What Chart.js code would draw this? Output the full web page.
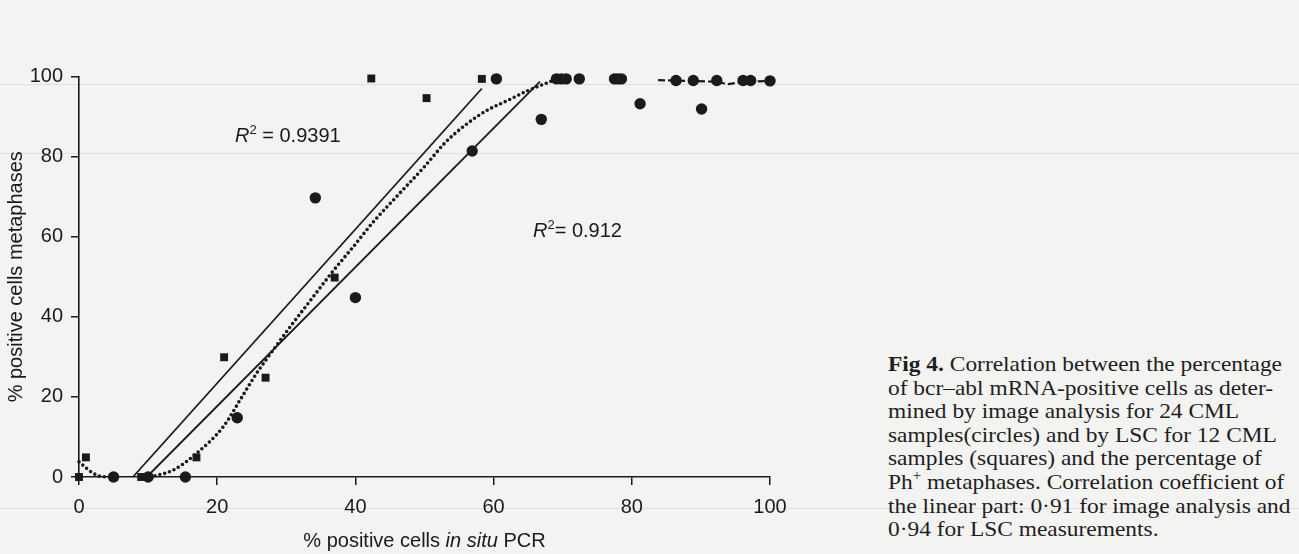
<!DOCTYPE html>
<html>
<head>
<meta charset="utf-8">
<title>Fig 4</title>
<script src="https://cdn.jsdelivr.net/npm/chart.js@4.4.1/dist/chart.umd.min.js"></script>
<style>
    body { margin: 0; width: 1299px; height: 554px; overflow: hidden; position: relative;
           background: #f3f3f1; color: #1a1a1a; font-family: "Liberation Sans", Arial, sans-serif; }
    #wrap { position: absolute; left: 0; top: 0; width: 800px; height: 554px; }
    .rule { position: absolute; left: 0; width: 1299px; height: 1px; background: #e0e0de; }
    .r2 { position: absolute; font-size: 20px; line-height: 20px; white-space: nowrap; }
    .r2 sup { font-size: 13px; line-height: 0; vertical-align: 8px; }
    #xtitle { position: absolute; left: 79px; width: 691px; top: 529px; text-align: center;
              font-size: 20px; line-height: 22px; white-space: nowrap; }
    #caption { position: absolute; left: 888px; top: 352px; font-family: "Liberation Serif", serif;
               font-size: 22px; line-height: 23.6px; white-space: nowrap; transform-origin: 0 0; color: #1e1e1e; }
    #caption sup { font-size: 14px; line-height: 0; vertical-align: 9px; }
</style>
</head>
<body>
<div class="rule" style="top:84px"></div>
<div class="rule" style="top:153px"></div>
<div class="rule" style="top:508px"></div>

<div id="wrap"><canvas id="chartFig4" width="800" height="554"></canvas></div>

<div class="r2" style="left:235px; top:125px"><i>R</i><sup>2</sup> = 0.9391</div>
<div class="r2" style="left:533px; top:220px"><i>R</i><sup>2</sup>= 0.912</div>
<div id="xtitle">% positive cells <i>in situ</i> PCR</div>

<div id="caption">
    <div id="capFirst"><b>Fig 4.</b> Correlation between the percentage</div>
    <div>of bcr–abl mRNA-positive cells as deter-</div>
    <div>mined by image analysis for 24 CML</div>
    <div>samples(circles) and by LSC for 12 CML</div>
    <div>samples (squares) and the percentage of</div>
    <div>Ph<sup>+</sup> metaphases. Correlation coefficient of</div>
    <div>the linear part: 0·91 for image analysis and</div>
    <div>0·94 for LSC measurements.</div>
</div>

<script>
// image analysis samples (circles)
const circleX = [5, 10, 15.4, 22.9, 34.2, 40, 56.9, 60.4, 66.9, 69.1, 69.8, 70.5, 72.4, 77.5, 78, 78.5, 81.2, 86.4, 88.9, 90.1, 92.3, 96.1, 97.2, 100];
const circleY = [0, 0, 0, 14.8, 69.7, 44.8, 81.4, 99.4, 89.3, 99.4, 99.4, 99.4, 99.4, 99.4, 99.4, 99.4, 93.2, 99, 99, 91.9, 99, 99, 99, 98.9];

// LSC samples (squares)
const squareX = [0, 1, 5, 9, 10, 17, 21, 27, 37, 42.3, 50.3, 58.3];
const squareY = [0, 4.9, 0, 0, 0, 4.9, 29.9, 24.8, 49.8, 99.5, 94.6, 99.4];

// linear fits
const fitLscX = [7.8, 58.3];
const fitLscY = [0, 97];
const fitImgX = [9.8, 66.7];
const fitImgY = [0, 98.7];

// dotted trend curve
const polyStartX = [0, 1, 2, 3, 4];
const polyStartY = [3.8, 2.3, 1.0, 0.2, 0];
const polyX = [10.3, 13.6, 17, 20.9, 23.3, 25.7, 28.1, 31, 33.9, 36.8, 39.7, 42.5, 46.5, 50, 53, 56, 59, 62, 65, 68.6];
const polyY = [0, 1.7, 5.9, 12.6, 19.2, 25.9, 31.7, 38.5, 45, 51.5, 57.5, 63.5, 71, 77.5, 83.5, 88, 91.5, 94, 96.5, 99];

// short dashed plateau segment at the top
const plateauX = [83.8, 88, 92, 94, 96, 100];
const plateauY = [99.1, 98.9, 98.7, 98.1, 98.6, 98.9];

const xTicks = [0, 20, 40, 60, 80, 100];
const yTicks = [0, 20, 40, 60, 80, 100];

const INK = '#1a1a1a';

function pts(xs, ys) {
    return xs.map((x, i) => ({ x: x, y: ys[i] }));
}

function lineSet(xs, ys, extra) {
    return Object.assign({
        data: pts(xs, ys),
        showLine: true,
        borderColor: INK,
        borderWidth: 1.8,
        pointRadius: 0,
        fill: false,
        clip: false
    }, extra);
}

const ctx = document.getElementById('chartFig4').getContext('2d');

new Chart(ctx, {
    type: 'scatter',
    data: {
        datasets: [
            {
                label: 'image analysis',
                data: pts(circleX, circleY),
                pointStyle: 'circle',
                pointRadius: 5.7,
                backgroundColor: INK,
                borderColor: INK,
                borderWidth: 0,
                clip: false
            },
            {
                label: 'LSC',
                data: pts(squareX, squareY),
                pointStyle: 'rect',
                pointRadius: 5.6,
                backgroundColor: INK,
                borderColor: INK,
                borderWidth: 0,
                clip: false
            },
            lineSet(fitLscX, fitLscY, { label: 'fit LSC' }),
            lineSet(fitImgX, fitImgY, { label: 'fit image' }),
            lineSet(polyX, polyY, {
                label: 'trend',
                borderWidth: 3.6,
                borderDash: [0, 5],
                borderCapStyle: 'round',
                cubicInterpolationMode: 'monotone'
            }),
            lineSet(polyStartX, polyStartY, {
                label: 'trend start',
                borderWidth: 3.6,
                borderDash: [0, 5],
                borderCapStyle: 'round',
                cubicInterpolationMode: 'monotone'
            }),
            lineSet(plateauX, plateauY, {
                label: 'plateau',
                borderWidth: 2.2,
                borderDash: [7, 3]
            })
        ]
    },
    options: {
        responsive: false,
        animation: false,
        devicePixelRatio: 1,
        layout: { padding: { top: 76.5, right: 30, left: 0, bottom: 0 } },
        plugins: { legend: { display: false }, tooltip: { enabled: false } },
        scales: {
            x: {
                type: 'linear',
                min: 0,
                max: 100,
                afterFit: s => { s.height = 77; },
                afterBuildTicks: s => { s.ticks = xTicks.map(v => ({ value: v })); },
                border: { display: true, color: INK, width: 1.6 },
                grid: { drawOnChartArea: false, drawTicks: true, tickLength: 8, color: INK, lineWidth: 1.5 },
                ticks: { color: INK, padding: 10, font: { family: 'Liberation Sans', size: 20 } }
            },
            y: {
                type: 'linear',
                min: 0,
                max: 100,
                afterFit: s => { s.width = 79; },
                afterBuildTicks: s => { s.ticks = yTicks.map(v => ({ value: v })); },
                border: { display: true, color: INK, width: 1.6 },
                grid: { drawOnChartArea: false, drawTicks: true, tickLength: 8, color: INK, lineWidth: 1.5 },
                ticks: { color: INK, padding: 8, font: { family: 'Liberation Sans', size: 20 } },
                title: {
                    display: true,
                    text: '% positive cells metaphases',
                    color: INK,
                    padding: { top: 4, bottom: 0 },
                    font: { family: 'Liberation Sans', size: 20 }
                }
            }
        }
    }
});

// stretch the caption so its first line has the printed width
document.fonts.ready.then(() => {
    const cap = document.getElementById('caption');
    const first = document.getElementById('capFirst');
    const range = document.createRange();
    range.selectNodeContents(first);
    const w = range.getBoundingClientRect().width;
    if (w > 0) cap.style.transform = 'scaleX(' + (394 / w) + ')';
});
</script>
</body>
</html>
